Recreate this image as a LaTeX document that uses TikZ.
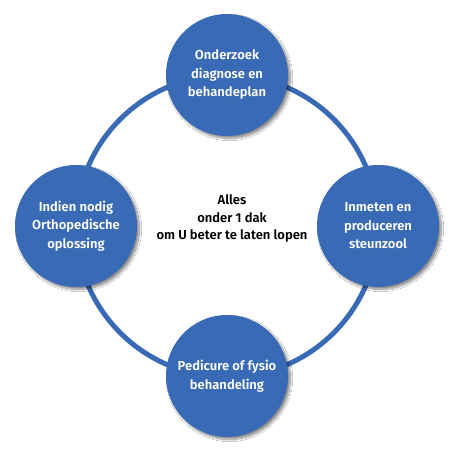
\documentclass[tikz,border=0pt]{standalone}
\usepackage{fontspec}
\setmainfont{Fira Sans}
\newfontfamily\semib{Fira Sans SemiBold}
\usetikzlibrary{shadows.blur}
\definecolor{ringblue}{RGB}{57,106,181}
\begin{document}
\begin{tikzpicture}[x=1pt,y=-1pt,
  bubble/.style={circle, fill=ringblue, minimum size=122pt, inner sep=0pt,
    text=white, align=center, font=\semib\fontsize{13}{18.5}\selectfont,
    blur shadow={shadow xshift=2.5pt, shadow yshift=-2.5pt, shadow blur steps=10, shadow opacity=45}},
  ring/.style={draw=ringblue, line width=5pt},
  centertext/.style={align=center, text=black, font=\semib\fontsize{13}{17.5}\selectfont}]
\useasboundingbox[fill=white] (0,0) rectangle (450,450);
\coordinate (c) at (227,226);
\draw[ring] (c) circle[radius=151];
\node[bubble] (top) at (227,75) {Onderzoek\\diagnose en\\behandeplan};
\node[bubble] (right) at (378,226) {Inmeten en\\produceren\\steunzool};
\node[bubble] (bottom) at (227,376) {Pedicure of fysio\\behandeling};
\node[bubble] (left) at (76,226) {Indien nodig\\Orthopedische\\oplossing};
\node[centertext] (mid) at (232,219) {Alles\\onder 1 dak\\om U beter te laten lopen};
\end{tikzpicture}
\end{document}
